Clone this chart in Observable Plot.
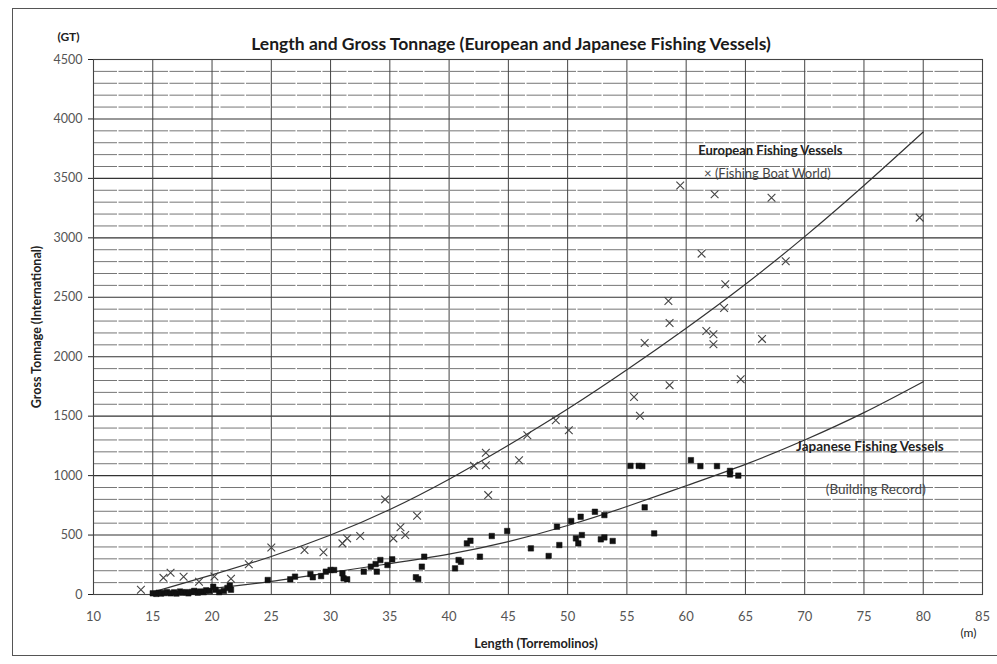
<!DOCTYPE html>
<html>
<head>
<meta charset="utf-8">
<script src="https://cdn.jsdelivr.net/npm/d3@7"></script>
<script src="https://cdn.jsdelivr.net/npm/@observablehq/plot@0.6"></script>
<style>
  html, body { margin: 0; padding: 0; background: #fff; overflow: hidden; }
  #wrap { position: relative; width: 997px; height: 664px; }
  #border { position: absolute; left: 12px; top: 8px; width: 990px; height: 646px;
            border: 1.5px solid #555; border-right: none; pointer-events: none; }
</style>
</head>
<body>
<div id="wrap"><div id="border"></div></div>
<script>
// European fishing vessels (Fishing Boat World): length (m), gross tonnage
const euroL  = [14.0, 15.9, 16.5, 17.6, 18.9, 20.2, 21.6, 23.1, 25.0, 27.8, 29.4, 31.0, 31.4, 32.5,
                34.6, 35.3, 35.9, 36.3, 37.3, 42.1, 43.1, 43.1, 43.3, 45.9, 46.6, 49.0, 50.1,
                55.6, 56.1, 56.5, 58.5, 58.6, 58.6, 59.5, 61.3, 61.7, 62.3, 62.3, 62.4, 63.2, 63.3,
                64.6, 66.4, 67.2, 68.4, 79.7];
const euroGT = [  40,  140,  183,  150,  108,  152,  132,  255,  395,  374,  355,  430,  472,  492,
                 800,  472,  565,  500,  662, 1082, 1192, 1088,  836, 1130, 1340, 1466, 1382,
                1662, 1503, 2116, 2469, 2284, 1761, 3441, 2867, 2217, 2189, 2105, 3366, 2410, 2609,
                1811, 2150, 3338, 2803, 3170];

// Japanese fishing vessels (Building Record): length (m), gross tonnage
const japanL  = [15.0, 15.3, 15.5, 15.7, 16.0, 16.2, 16.5, 16.8, 17.0, 17.3, 17.5, 17.8, 18.0, 18.3,
                 18.5, 18.8, 19.0, 19.3, 19.5, 19.8, 20.1, 20.3, 20.6, 21.0, 21.3, 21.5, 21.6,
                 24.7, 26.6, 27.0, 28.3, 28.5, 29.2, 29.6, 30.0, 30.3, 31.0, 31.1, 31.4, 32.8,
                 33.4, 33.8, 33.9, 34.2, 34.8, 35.2, 37.2, 37.4, 37.7, 37.9, 40.5, 40.8, 41.0,
                 41.5, 41.8, 42.6, 43.6, 44.9, 46.9, 48.4, 49.1, 49.3, 50.3, 50.7, 50.9, 51.1,
                 51.2, 52.3, 52.8, 53.1, 53.1, 53.8, 55.3, 56.0, 56.3, 56.5, 57.3, 60.4, 61.2,
                 62.6, 63.7, 63.7, 64.4];
const japanGT = [ 10,    5,   15,    8,   12,   20,   10,   18,    8,   25,   15,   20,   10,   22,
                  30,   15,   25,   20,   35,   30,   65,   40,   20,   30,   55,   75,   40,
                 122,  128,  150,  172,  145,  155,  192,  206,  206,  178,  136,  128,  192,
                 234,  256,  192,  290,  248,  296,  145,  130,  234,  318,  220,  290,  275,
                 430,  452,  318,  492,  534,  388,  324,  570,  416,  618,  472,  430,  654,
                 500,  696,  464,  668,  480,  450, 1082, 1082, 1080,  733,  514, 1130, 1080,
                1080, 1040, 1010, 1000];

// Trend curves
const fitL     = [15,  20,  25,  30,  35,  40,   45,   50,   55,   60,   65,   70,   75,   80];
const euroFit  = [20, 165, 320, 500, 715, 970, 1255, 1560, 1890, 2240, 2610, 3010, 3440, 3890];
const japanFit = [ 0,  50, 110, 185, 260, 340,  445,  580,  740,  915, 1095, 1300, 1530, 1790];

const xTicks = d3.range(10, 86, 5);
const yTicks = d3.range(0, 4501, 500);
const yMinor = d3.range(0, 4501, 100).filter(v => v % 500 !== 0);

const euro  = euroL.map((L, i) => ({L, GT: euroGT[i]}));
const japan = japanL.map((L, i) => ({L, GT: japanGT[i]}));
const euroCurve  = fitL.map((L, i) => ({L, GT: euroFit[i]}));
const japanCurve = fitL.map((L, i) => ({L, GT: japanFit[i]}));

const font = "Lato, 'Open Sans', sans-serif";
const mid = {textAnchor: "middle", lineAnchor: "middle"};

const chart = Plot.plot({
  width: 997, height: 664,
  marginLeft: 93, marginRight: 15, marginTop: 59, marginBottom: 70,
  style: {fontFamily: font, fontSize: "12px", background: "transparent", color: "#222"},
  x: {domain: [10, 85]},
  y: {domain: [0, 4500]},
  marks: [
    Plot.ruleY(yMinor, {stroke: "#666", strokeWidth: 0.9, strokeDasharray: "24,1.5"}),
    Plot.ruleY(yTicks, {stroke: "#333", strokeWidth: 1.1}),
    Plot.ruleX(xTicks, {stroke: "#444", strokeWidth: 1}),
    Plot.frame({stroke: "#444", strokeWidth: 1.1}),
    Plot.axisY({ticks: yTicks, tickSize: 5, tickPadding: 6, fill: "#555", fontSize: 12.5, label: null, tickFormat: d => String(d)}),
    Plot.axisX({ticks: xTicks, tickSize: 0, tickPadding: 17, fill: "#555", fontSize: 13, label: null}),
    Plot.line(euroCurve, {x: "L", y: "GT", curve: "natural", stroke: "#333", strokeWidth: 1.2}),
    Plot.line(japanCurve, {x: "L", y: "GT", curve: "natural", stroke: "#333", strokeWidth: 1.2}),
    Plot.dot(japan, {x: "L", y: "GT", symbol: "square", r: 3.1, fill: "#111", stroke: "#111", strokeWidth: 0.5}),
    Plot.dot(euro, {x: "L", y: "GT", symbol: "times", r: 3.6, stroke: "#444", strokeWidth: 1.1}),
    // annotations
    Plot.text(["European Fishing Vessels"], {x: 67.1, y: 3735, fontWeight: "bold", fontSize: 13, fill: "#222"}),
    Plot.text(["× (Fishing Boat World)"], {x: 66.85, y: 3542, fontSize: 13, fill: "#444"}),
    Plot.text(["Japanese Fishing Vessels"], {x: 75.5, y: 1240, fontWeight: "bold", fontSize: 13.5, fill: "#222"}),
    Plot.text(["(Building Record)"], {x: 76.0, y: 878, fontSize: 13.5, fill: "#444"}),
    // titles and axis labels
    Plot.text(["Length and Gross Tonnage (European and Japanese Fishing Vessels)"],
      {frameAnchor: "top", dx: -27, dy: -15, ...mid, fontWeight: "bold", fontSize: 17.5, fill: "#1a1a1a"}),
    Plot.text(["(GT)"], {frameAnchor: "top-left", dx: -25, dy: -22, ...mid, fontWeight: "bold", fontSize: 12, fill: "#222"}),
    Plot.text(["Gross Tonnage (International)"], {frameAnchor: "left", dx: -57, ...mid, rotate: -90, fontWeight: "bold", fontSize: 12.5, fill: "#222"}),
    Plot.text(["Length (Torremolinos)"], {frameAnchor: "bottom", dx: -2, dy: 49, ...mid, fontWeight: "bold", fontSize: 12.8, fill: "#222"}),
    Plot.text(["(m)"], {frameAnchor: "bottom-right", dx: -14, dy: 39, ...mid, fontSize: 12, fill: "#222"})
  ]
});
document.getElementById("wrap").prepend(chart);
</script>
</body>
</html>
